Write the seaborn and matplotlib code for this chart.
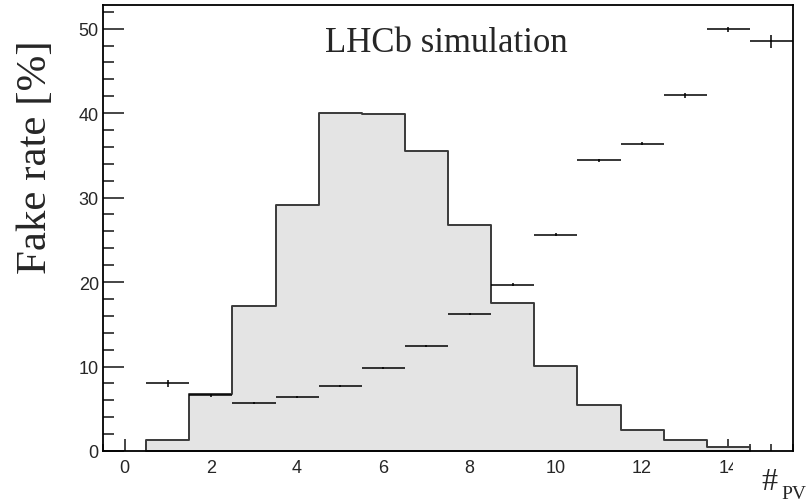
import numpy as np
import pandas as pd
import matplotlib
matplotlib.use("Agg")
import matplotlib.pyplot as plt
from matplotlib.ticker import MultipleLocator
from matplotlib.patches import Rectangle
import seaborn as sns

# histogram of number of PVs (arbitrary units, drawn on the same axis)
pv_centers = [1, 2, 3, 4, 5, 6, 7, 8, 9, 10, 11, 12, 13, 14]
pv_counts = [1.3, 6.8, 17.2, 29.1, 40.0, 39.9, 35.5, 26.8, 17.5, 10.1, 5.5, 2.5, 1.25, 0.5]

# fake rate vs #PV
fr_x = [1, 2, 3, 4, 5, 6, 7, 8, 9, 10, 11, 12, 13, 14, 15]
fr_y = [8.0, 6.6, 5.7, 6.35, 7.7, 9.8, 12.4, 16.2, 19.7, 25.6, 34.4, 36.4, 42.1, 49.9, 48.5]
fr_err = [0.45, 0.2, 0.15, 0.12, 0.12, 0.12, 0.12, 0.15, 0.15, 0.15, 0.15, 0.2, 0.3, 0.35, 0.8]

W, H = 807, 502
sns.set_style("white")
plt.rcParams["font.family"] = ["Liberation Sans", "DejaVu Sans"]

fig = plt.figure(figsize=(W / 100, H / 100), dpi=100)
ax = fig.add_axes([103 / W, 1 - 452 / H, 690 / W, 446 / H])

hist_df = pd.DataFrame({"npv": pv_centers, "w": pv_counts})
sns.histplot(data=hist_df, x="npv", weights="w", binwidth=1, binrange=(0.5, 14.5),
             element="step", fill=True, ax=ax, facecolor="#e4e4e4",
             edgecolor="#3a3a3a", linewidth=1.4, alpha=1)

ax.errorbar(fr_x, fr_y, xerr=0.5, yerr=fr_err, fmt="none", ecolor="black",
            elinewidth=1.1, capsize=0, zorder=3)

ax.set_xlim(-0.5, 15.5)
ax.set_ylim(0, 52.8)
ax.set_xlabel("")
ax.set_ylabel("")
ax.xaxis.set_major_locator(MultipleLocator(2))
ax.xaxis.set_minor_locator(MultipleLocator(0.5))
ax.yaxis.set_major_locator(MultipleLocator(10))
ax.yaxis.set_minor_locator(MultipleLocator(2))
ax.tick_params(axis="x", which="major", direction="in", length=9, width=1.2,
               labelsize=13, pad=6, top=False, bottom=True)
ax.tick_params(axis="x", which="minor", direction="in", length=4.8, width=1.2,
               top=False, bottom=True)
ax.tick_params(axis="y", which="major", direction="in", length=15, width=1.2,
               labelsize=13, pad=3, right=False, left=True)
ax.tick_params(axis="y", which="minor", direction="in", length=7.7, width=1.2,
               right=False, left=True)
for s in ax.spines.values():
    s.set_color("black")
    s.set_linewidth(1.3)

# the original has the lower right corner blanked out under the axis title
fig.patches.append(Rectangle((733 / W, 0), (W - 733) / W, 1 - 453 / H,
                             transform=fig.transFigure, facecolor="white",
                             edgecolor="none", zorder=5))

fig.text(325 / W, 1 - 52 / H, "LHCb simulation", family="Liberation Serif",
         fontsize=25, va="baseline", ha="left")
fig.text(46 / W, 1 - 40 / H, "Fake rate [%]", family="Liberation Serif",
         fontsize=31, rotation=90, rotation_mode="anchor", ha="right", va="baseline")
fig.text(761 / W, 1 - 490 / H, "#", family="Liberation Serif", fontsize=23,
         va="baseline", ha="left", zorder=6)
fig.text(781 / W, 1 - 499 / H, "PV", family="Liberation Serif", fontsize=14,
         va="baseline", ha="left", zorder=6)

fig.savefig("out.png", dpi=100)
